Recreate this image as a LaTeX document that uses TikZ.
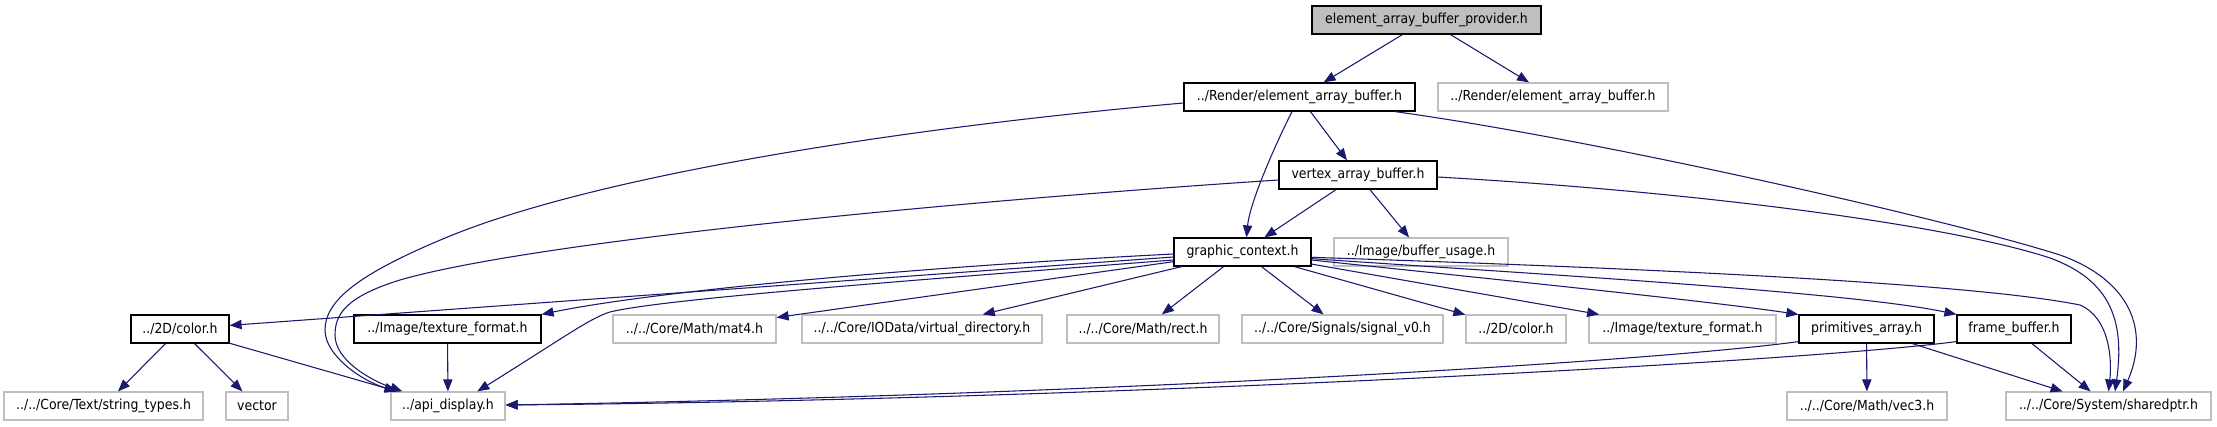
\documentclass[tikz,border=0pt]{standalone}
\usepackage{fontspec}
\setmainfont{DejaVu Sans Condensed}
\usetikzlibrary{arrows.meta}
\definecolor{navy}{RGB}{25,25,112}
\definecolor{lgray}{RGB}{191,191,191}
\begin{document}
\begin{tikzpicture}[x=0.75pt,y=-0.75pt,
  lbl/.style={font=\fontsize{10.4pt}{12pt}\selectfont, inner sep=0pt, minimum height=21pt, text=black},
  hdr/.style={lbl, draw=black, line width=0.9pt},
  ext/.style={lbl, draw=lgray, line width=0.9pt},
  root/.style={lbl, draw=black, fill=lgray, line width=0.9pt},
  dep/.style={draw=navy, line width=0.8pt, -{Triangle[length=9pt,width=7pt]}}]
\fill[white] (0,0) rectangle (2217,427);
\useasboundingbox (0,0) rectangle (2217,427);
% row 1
\node[root, minimum width=171.75pt] (provider) at (1426.5,20) {element\_array\_buffer\_provider.h};
% row 2
\node[hdr, minimum width=173.25pt] (render) at (1299.5,97) {../Render/element\_array\_buffer.h};
\node[ext, minimum width=172.5pt] (rg) at (1553,97) {../Render/element\_array\_buffer.h};
% row 3
\node[hdr, minimum width=118.5pt] (vab) at (1358,175) {vertex\_array\_buffer.h};
% row 4
\node[hdr, minimum width=102.75pt] (gc) at (1242.5,252) {graphic\_context.h};
\node[ext, minimum width=130.5pt] (bu) at (1421,252) {../Image/buffer\_usage.h};
% row 5
\node[hdr, minimum width=73.5pt] (color) at (180,329) {../2D/color.h};
\node[hdr, minimum width=140.25pt] (texfmt) at (447.5,329) {../Image/texture\_format.h};
\node[ext, minimum width=122.25pt] (mat4) at (694.5,329) {../../Core/Math/mat4.h};
\node[ext, minimum width=180pt] (vdir) at (922,329) {../../Core/IOData/virtual\_directory.h};
\node[ext, minimum width=114pt] (rect) at (1143,329) {../../Core/Math/rect.h};
\node[ext, minimum width=150.75pt] (signal) at (1342.5,329) {../../Core/Signals/signal\_v0.h};
\node[ext, minimum width=75pt] (color2) at (1516,329) {../2D/color.h};
\node[ext, minimum width=140.25pt] (texfmt2) at (1682.5,329) {../Image/texture\_format.h};
\node[hdr, minimum width=101.25pt] (prim) at (1866.5,329) {primitives\_array.h};
\node[hdr, minimum width=85.5pt] (fb) at (2014,329) {frame\_buffer.h};
% row 6
\node[ext, minimum width=149.25pt] (st) at (103.5,406) {../../Core/Text/string\_types.h};
\node[ext, minimum width=46.5pt] (vector) at (257,406) {vector};
\node[ext, minimum width=85.5pt] (api) at (448,406) {../api\_display.h};
\node[ext, minimum width=120pt] (vec3) at (1867,406) {../../Core/Math/vec3.h};
\node[ext, minimum width=153.75pt] (sp) at (2108.5,406) {../../Core/System/sharedptr.h};
% edges
\draw[dep] (provider) -- (render);
\draw[dep] (provider) -- (rg);
\draw[dep] ([xshift=-5.6pt]render.south) .. controls (1280,135) and (1250,200) .. ([xshift=3pt]gc.north);
\draw[dep] (render) -- (vab);
\draw[dep] ([yshift=-4.5pt]render.west) .. controls (900,128) and (600,175) .. (450,236)
  .. controls (360,273) and (325,300) .. (325,330) .. controls (325,355) and (360,380) .. ([xshift=4.5pt]api.north west);
\draw[dep] ([xshift=71.6pt]render.south) .. controls (1600,140) and (1950,220) .. (2060,255)
  .. controls (2130,280) and (2150,330) .. ([xshift=10.9pt]sp.north);
\draw[dep] (vab) -- (gc);
\draw[dep] (vab) -- (bu);
\draw[dep] ([yshift=-3.75pt]vab.west) .. controls (900,205) and (520,245) .. (400,280)
  .. controls (345,297) and (335,315) .. (335,335) .. controls (335,360) and (370,380) .. ([xshift=9pt]api.north west);
\draw[dep] ([yshift=-1.5pt]vab.east) .. controls (1700,192) and (1950,225) .. (2050,258)
  .. controls (2110,280) and (2125,320) .. ([xshift=4.9pt]sp.north);
\draw[dep] (gc) -- (color);
\draw[dep] ([yshift=-1.5pt]gc.west) .. controls (900,268) and (650,292) .. (texfmt.north east);
\draw[dep] ([yshift=-6pt]gc.west) .. controls (850,285) and (660,300) .. (610,312)
  .. controls (590,318) and (560,340) .. ([xshift=22pt]api.north);
\draw[dep] (gc) -- (mat4);
\draw[dep] (gc) -- (vdir);
\draw[dep] (gc) -- (rect);
\draw[dep] (gc) -- (signal);
\draw[dep] (gc) -- (color2);
\draw[dep] (gc) -- (texfmt2);
\draw[dep] ([yshift=-6pt]gc.east) .. controls (1500,280) and (1700,300) .. (prim.north west);
\draw[dep] ([yshift=-5pt]gc.east) .. controls (1550,275) and (1850,292) .. (fb.north west);
\draw[dep] ([yshift=-4pt]gc.east) .. controls (1700,270) and (1980,285) .. (2080,305)
  .. controls (2110,318) and (2112,360) .. (sp.north);
\draw[dep] (color) -- (st);
\draw[dep] (color) -- (vector);
\draw[dep] (color) -- (api);
\draw[dep] (texfmt) -- (api);
\draw[dep] (prim) -- (vec3);
\draw[dep] (prim) -- (sp);
\draw[dep] (fb) -- (sp);
\draw[dep] ([yshift=1.5pt]prim.south west) .. controls (1650,362) and (1100,395) .. ([yshift=0.75pt]api.east);
\draw[dep] ([yshift=1.5pt]fb.south west) .. controls (1800,362) and (1100,400) .. ([yshift=0.75pt]api.east);
\end{tikzpicture}
\end{document}
